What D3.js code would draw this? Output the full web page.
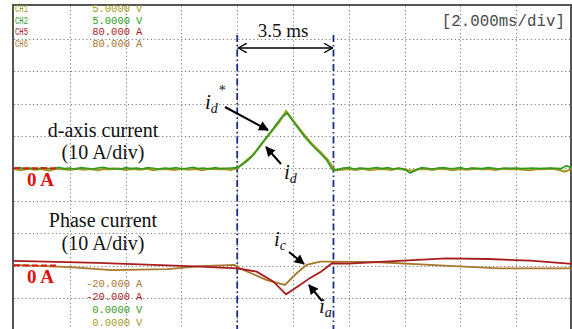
<!DOCTYPE html>
<html><head><meta charset="utf-8">
<script src="https://cdn.jsdelivr.net/npm/d3@7"></script>
<style>html,body{margin:0;padding:0;background:#fff;}svg{display:block}</style>
</head><body><svg id="c" width="572" height="329"></svg>
<script>
// ---------- DATA ----------
// time base: 2 ms/div, 10 divisions; d-axis and phase currents at 10 A/div
const sampleStepMeasured = 0.2;   // ms
const idMeasured = [
  0.0,0.2,-0.2,0.1,-0.3,0.2,0.0,-0.2,0.3,-0.1,
  0.1,-0.3,0.2,0.0,-0.2,0.1,0.3,-0.1,0.0,-0.3,
  0.2,-0.1,0.1,-0.2,0.2,0.0,-0.3,0.1,-0.1,0.2,
  -0.2,0.0,0.3,-0.1,0.1,-0.2,0.2,-0.1,0.0,0.1,
  0.2,1.2,2.6,4.3,6.8,9.0,11.2,13.6,15.8,17.0,
  14.5,12.2,9.9,7.9,6.1,4.4,2.6,-0.3,-0.4,0.1,
  0.2,-0.2,0.1,-0.1,0.0,0.2,-0.1,0.2,-0.2,0.1,
  -0.3,-1.5,-0.6,0.2,0.0,-0.2,0.1,0.2,-0.1,0.0,
  0.2,-0.2,0.1,0.0,-0.1,0.2,0.0,-0.2,0.1,0.0,
  0.1,-0.1,0.0,0.1,-0.1,0.0,0.1,0.0,-0.1,0.8,0.1
];
const sampleStepRef = 0.25;       // ms
const idRef = [
  -0.2,-0.6,-0.1,-0.4,-0.2,-0.7,-0.1,-0.3,-0.5,-0.1,-0.4,-0.2,-0.6,-0.2,-0.3,-0.1,
  -0.5,-0.2,-0.4,-0.1,-0.6,-0.2,-0.3,-0.5,-0.1,-0.4,-0.2,-0.6,-0.1,-0.3,-0.2,-0.5,
  0.0,1.8,3.6,6.0,8.9,11.6,14.2,17.6,14.8,12.0,9.3,6.9,4.9,2.6,-0.6,-0.4,
  -0.2,-0.5,-0.1,-0.6,-0.3,-0.2,-0.5,-0.1,-0.4,-0.8,-0.3,-0.2,-0.5,-0.1,-0.3,-0.6,
  -0.2,-0.4,-0.1,-0.3,-0.2,-0.5,-0.1,-0.3,-0.2,-0.4,-0.6,-0.2,-0.3,-0.1,-0.4,-1.0,-0.2
];
const iaTimes  = [0,3,6.5,8.0,8.7,9.3,9.75,10.25,10.6,11.0,11.4,12.0,13.1,15.5,17.0,18.5,20];
const iaValues = [1.4,0.8,-0.3,-0.9,-1.9,-5.0,-8.9,-6.0,-3.9,-1.9,0.7,0.6,1.1,2.2,2.0,1.5,0.5];
const icTimes  = [0,2,3.5,5.5,6.7,7.9,8.1,9.06,9.71,10.13,10.49,10.97,11.4,13.1,15.6,17.4,20];
const icValues = [0.2,-0.5,-1.4,-1.1,-0.2,0.2,-0.9,-4.5,-6.0,-2.4,0.2,1.2,1.2,1.0,-0.1,-0.9,-0.9];
const markerTimes = [8.0, 11.45];
const timeDomain = [0, 20];
const chNames  = ["CH1","CH2","CH5","CH6"];
const chScales = ["5.0000","5.0000","80.000","80.000"];
const chUnits  = ["V","V","A","A"];
const offNames = ["-20.000","-20.000","0.0000","0.0000"];
const offUnits = ["A","A","V","V"];
const timeBaseLabel = "[2.000ms/div]";

// ---------- STYLE / LAYOUT ----------
const C = {ch1:"#a39a22", ch2:"#2f9a22", ch5:"#a81c1c", ch6:"#a8762c"};
const offColors = [C.ch6, C.ch5, C.ch2, C.ch1];
const chColors = [C.ch1, C.ch2, C.ch5, C.ch6];
const L = 14, R = 572, T = 6.3, B = 330.3, H = 329;
const svg = d3.select("#c");
const x = d3.scaleLinear().domain(timeDomain).range([L, R]);
const yDiv = d3.scaleLinear().domain([-5, 5]).range([B, T]);
const ampPerDiv = 10;
const dOffset = 0, phOffset = -3;
const yd = v => yDiv(v / ampPerDiv + dOffset);
const yp = v => yDiv(v / ampPerDiv + phOffset);

// grid
const grid = svg.append("g").attr("stroke","#7a7a7a").attr("stroke-width",1).attr("stroke-dasharray","1.2,2.6");
grid.selectAll("line.v").data(d3.range(2, 20, 2)).join("line")
  .attr("x1", d => Math.round(x(d))+0.5).attr("x2", d => Math.round(x(d))+0.5).attr("y1", T).attr("y2", H);
grid.selectAll("line.h").data(d3.range(-4, 5)).join("line")
  .attr("y1", d => Math.round(yDiv(d))+0.5).attr("y2", d => Math.round(yDiv(d))+0.5).attr("x1", L).attr("x2", R);

// borders
svg.append("line").attr("x1",L-1).attr("x2",R).attr("y1",5).attr("y2",5).attr("stroke","#555").attr("stroke-width",2);
svg.append("line").attr("x1",L-1).attr("x2",L-1).attr("y1",4).attr("y2",H).attr("stroke","#555").attr("stroke-width",2);
svg.append("line").attr("x1",R-1).attr("x2",R-1).attr("y1",4).attr("y2",H).attr("stroke","#555").attr("stroke-width",2);

// blue dash-dot markers
svg.selectAll("line.mk").data(markerTimes).join("line")
  .attr("x1", d => x(d)).attr("x2", d => x(d)).attr("y1", 35).attr("y2", H)
  .attr("stroke","#1c2e86").attr("stroke-width",1.8).attr("stroke-dasharray","7,3,1.5,3");

// traces
const lineGen = d3.line().x(d => x(d[0])).y(d => d[1]);
const ic = icTimes.map((t,i) => [t, yp(icValues[i])]);
const ia = iaTimes.map((t,i) => [t, yp(iaValues[i])]);
svg.append("path").attr("d", lineGen(ic)).attr("fill","none").attr("stroke",C.ch6).attr("stroke-width",1.8);
svg.append("path").attr("d", lineGen(ia)).attr("fill","none").attr("stroke",C.ch5).attr("stroke-width",1.8);
const ref = idRef.map((v,i) => [i*sampleStepRef, yd(v)]);
const meas = idMeasured.map((v,i) => [i*sampleStepMeasured, yd(v)]);
svg.append("path").attr("d", lineGen(ref)).attr("fill","none").attr("stroke",C.ch1).attr("stroke-width",2.2);
svg.append("path").attr("d", lineGen(meas)).attr("fill","none").attr("stroke",C.ch2).attr("stroke-width",1.6);

// zero markers (red dashes)
[yd(0), yp(0)].forEach(yy => {
  svg.append("line").attr("x1",L).attr("x2",L+44).attr("y1",yy).attr("y2",yy)
    .attr("stroke","#e01818").attr("stroke-width",2).attr("stroke-dasharray","6,3");
});

// scope texts
const mono = "'Liberation Mono','DejaVu Sans Mono',monospace";
const scopeG = svg.append("g").attr("font-family",mono).attr("font-size",10.5);
chNames.forEach((n,i) => {
  const yy = 12 + i*11.5;
  scopeG.append("text").attr("x",15).attr("y",yy).attr("fill",chColors[i]).attr("textLength",13).attr("lengthAdjust","spacingAndGlyphs").text(n);
  scopeG.append("text").attr("x",130).attr("y",yy).attr("text-anchor","end").attr("fill",chColors[i]).text(chScales[i]);
  scopeG.append("text").attr("x",136).attr("y",yy).attr("fill",chColors[i]).text(chUnits[i]);
});
offNames.forEach((n,i) => {
  const yy = 287 + i*13;
  scopeG.append("text").attr("x",130).attr("y",yy).attr("text-anchor","end").attr("fill",offColors[i]).text(n);
  scopeG.append("text").attr("x",136).attr("y",yy).attr("fill",offColors[i]).text(offUnits[i]);
});
svg.append("text").attr("x",565).attr("y",26).attr("text-anchor","end")
  .attr("font-family",mono).attr("font-size",15.8).attr("fill","#4a4a4a").text(timeBaseLabel);

// annotations
const serif = "'Liberation Serif','Times New Roman',serif";
const ann = svg.append("g").attr("font-family",serif).attr("fill","#111");
ann.append("text").attr("x",283).attr("y",37).attr("text-anchor","middle").attr("font-size",19).text("3.5 ms");
[["d-axis current",137],["(10 A/div)",159],["Phase current",227],["(10 A/div)",250]].forEach(([t,yy]) => {
  ann.append("text").attr("x",103).attr("y",yy).attr("text-anchor","middle").attr("font-size",20).text(t);
});
[yd(0)+18, yp(0)+17].forEach(yy => {
  ann.append("text").attr("x",27).attr("y",yy).attr("font-size",19).attr("font-weight","bold").attr("fill","#e01010").text("0 A");
});
function subLabel(px, py, sub, sup) {
  const t = ann.append("text").attr("x",px).attr("y",py).attr("font-style","italic").attr("font-size",21);
  t.append("tspan").text("i");
  t.append("tspan").attr("font-size",14).attr("dy",4).text(sub);
  if (sup) t.append("tspan").attr("font-size",14).attr("dx",1).attr("dy",-18).attr("font-style","normal").text(sup);
}
subLabel(205, 109, "d", "*");
subLabel(284, 179, "d");
subLabel(274, 246, "c");
subLabel(319, 313, "a");

// arrows
const defs = svg.append("defs");
defs.append("marker").attr("id","ah").attr("viewBox","0 0 10 10").attr("refX",9).attr("refY",5)
  .attr("markerWidth",5).attr("markerHeight",5).attr("orient","auto-start-reverse").attr("markerUnits","strokeWidth")
  .append("path").attr("d","M0,0L10,5L0,10z").attr("fill","#000");
defs.append("marker").attr("id","chev").attr("viewBox","0 0 10 10").attr("refX",9).attr("refY",5)
  .attr("markerWidth",6).attr("markerHeight",6).attr("orient","auto-start-reverse").attr("markerUnits","strokeWidth")
  .append("path").attr("d","M0,0L9,5L0,10").attr("fill","none").attr("stroke","#000").attr("stroke-width",1.4);
svg.append("line").attr("x1",x(markerTimes[0])+1).attr("x2",x(markerTimes[1])-1).attr("y1",48).attr("y2",48)
  .attr("stroke","#000").attr("stroke-width",1.6).attr("marker-start","url(#chev)").attr("marker-end","url(#chev)");
[[225,107,268,130],[281,164,266,147],[289,252,304,264],[322,301,309,285]].forEach(([a,b,c,d]) => {
  svg.append("line").attr("x1",a).attr("y1",b).attr("x2",c).attr("y2",d)
    .attr("stroke","#000").attr("stroke-width",2).attr("marker-end","url(#ah)");
});
</script></body></html>
